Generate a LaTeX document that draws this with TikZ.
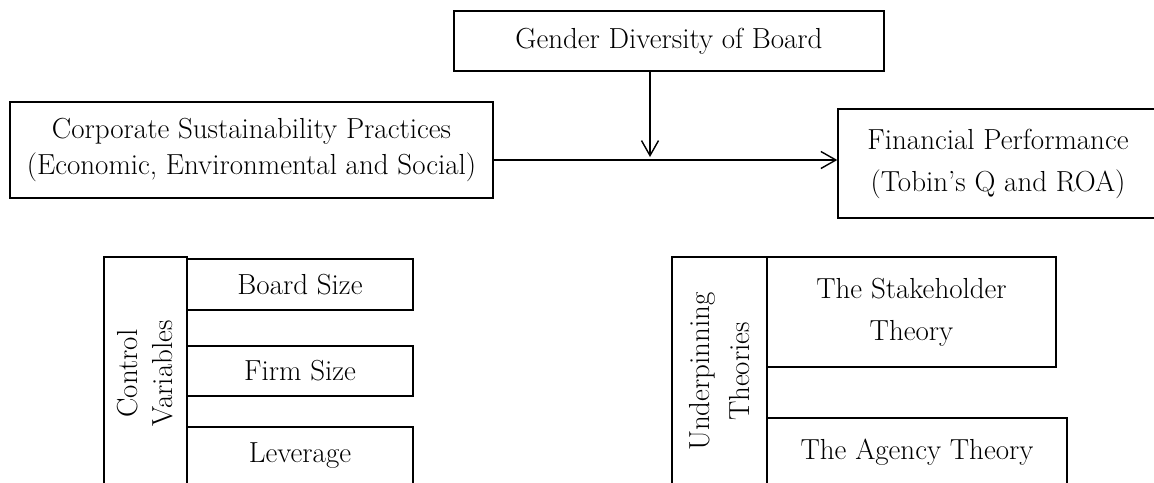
\documentclass[tikz,border=0pt]{standalone}
\usetikzlibrary{arrows.meta}

\tikzset{
  box/.style={draw, line width=1.4pt, inner sep=2pt, align=center,
    font=\fontsize{29}{38}\selectfont},
  link/.style={line width=1.4pt, -{Straight Barb[length=15pt,width=17pt,line width=1.4pt]}},
}

\begin{document}
\begin{tikzpicture}[x=1pt, y=-1pt]
\useasboundingbox (0,0) rectangle (1154,482);
\clip (0,0) rectangle (1154,482);

% moderator and the main relationship
\node[box, minimum width=430pt, minimum height=60pt] (gender) at (669,41)
  {Gender Diversity of Board};
\node[box, minimum width=483pt, minimum height=96pt,
  font=\fontsize{29}{36}\selectfont] (csp) at (251.5,150)
  {Corporate Sustainability Practices\\(Economic, Environmental and Social)};
\node[box, minimum width=320pt, minimum height=109pt,
  font=\fontsize{29}{42}\selectfont] (fp) at (998,163.5)
  {Financial Performance\\(Tobin’s Q and ROA)};

\coordinate (axis) at (650,160);
\coordinate (mod) at (650,157);
\draw[link] (csp.east |- axis) -- (fp.west |- axis);
\draw[link] (gender.south -| mod) -- (mod);

% control variables
\node[box, rotate=90, minimum width=233pt, minimum height=83pt,
  font=\fontsize{29}{35}\selectfont] (ctrl) at (145.5,373.5)
  {Control\\Variables};
\node[box, minimum width=226pt, minimum height=51pt] (bsize) at (300,284.5)
  {Board Size};
\node[box, minimum width=226pt, minimum height=50pt] (fsize) at (300,371)
  {Firm Size};
\node[box, minimum width=226pt, minimum height=57pt] (lev) at (300,455.5)
  {Leverage};

% underpinning theories
\node[box, rotate=90, minimum width=229pt, minimum height=95pt,
  font=\fontsize{29}{40}\selectfont] (theo) at (719.5,371.5)
  {Underpinning\\Theories};
\node[box, minimum width=289pt, minimum height=110pt,
  font=\fontsize{29}{42}\selectfont] (stake) at (911.5,312)
  {The Stakeholder\\Theory};
\node[box, minimum width=300pt, minimum height=68pt] (agency) at (917,452)
  {The Agency Theory};
\end{tikzpicture}
\end{document}
